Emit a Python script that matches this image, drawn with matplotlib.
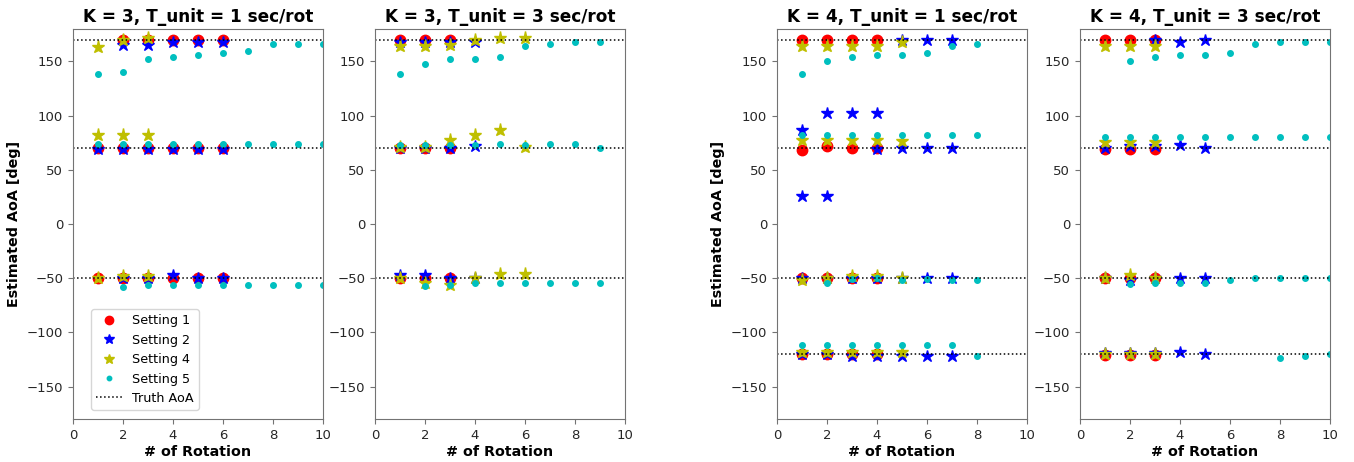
import matplotlib
matplotlib.use('Agg')
import matplotlib.pyplot as plt

# AoA estimates per panel and per setting, as (rotation, estimated AoA [deg])
# K = 3, T_unit = 1 sec/rot
k3t1_s1 = [(1, 70), (1, -50), (2, 170), (2, 70), (2, -50), (3, 170), (3, 70), (3, -50),
           (4, 170), (4, 70), (4, -50), (5, 170), (5, 70), (5, -50), (6, 170), (6, 70), (6, -50)]
k3t1_s2 = [(1, 69), (2, 165), (2, 69), (2, -50), (3, 165), (3, 69), (3, -50),
           (4, 168), (4, 69), (4, -47), (5, 168), (5, 69), (5, -50), (6, 168), (6, 69), (6, -50)]
k3t1_s4 = [(1, 163), (1, 82), (1, -50), (2, 170), (2, 82), (2, -48), (3, 172), (3, 82), (3, -48)]
k3t1_s5 = [(1, 138), (1, 74), (2, 140), (2, 74), (2, -58), (3, 152), (3, 74), (3, -56),
           (4, 154), (4, 74), (4, -56), (5, 156), (5, 74), (5, -56), (6, 158), (6, 74), (6, -56),
           (7, 160), (7, 74), (7, -56), (8, 166), (8, 74), (8, -56), (9, 166), (9, 74), (9, -56),
           (10, 166), (10, 74), (10, -56)]

# K = 3, T_unit = 3 sec/rot
k3t3_s1 = [(1, 170), (1, 70), (1, -50), (2, 170), (2, 70), (2, -50), (3, 170), (3, 70), (3, -50)]
k3t3_s2 = [(1, 168), (1, 70), (1, -47), (2, 168), (2, 70), (2, -47), (3, 168), (3, 70), (3, -50),
           (4, 168), (4, 72), (4, -50)]
k3t3_s4 = [(1, 164), (1, 71), (1, -50), (2, 164), (2, 71), (2, -54), (3, 165), (3, 78), (3, -56),
           (4, 170), (4, 82), (4, -50), (5, 172), (5, 87), (5, -46), (6, 172), (6, 71), (6, -46)]
k3t3_s5 = [(1, 138), (1, 73), (2, 148), (2, 73), (2, -57), (3, 152), (3, 73), (3, -56),
           (4, 152), (4, 73), (4, -54), (5, 154), (5, 74), (5, -54), (6, 164), (6, 73), (6, -54),
           (7, 166), (7, 74), (7, -54), (8, 168), (8, 74), (8, -54), (9, 168), (9, 70), (9, -54)]

# K = 4, T_unit = 1 sec/rot
k4t1_s1 = [(1, 170), (1, 68), (1, -50), (1, -120), (2, 170), (2, 72), (2, -50), (2, -120),
           (3, 170), (3, 70), (3, -50), (3, -120), (4, 170), (4, 70), (4, -50), (4, -120)]
k4t1_s2 = [(1, 87), (1, 26), (1, -50), (1, -120), (2, 102), (2, 26), (2, -50), (2, -120),
           (3, 102), (3, -50), (3, -122), (4, 102), (4, 69), (4, -50), (4, -122),
           (5, 170), (5, 70), (5, -50), (5, -122), (6, 170), (6, 70), (6, -50), (6, -122),
           (7, 170), (7, 70), (7, -50), (7, -122)]
k4t1_s4 = [(1, 164), (1, 78), (1, -52), (1, -118), (2, 164), (2, 78), (2, -50), (2, -118),
           (3, 164), (3, 78), (3, -48), (3, -118), (4, 164), (4, 78), (4, -48), (4, -118),
           (5, 168), (5, 77), (5, -50), (5, -118)]
k4t1_s5 = [(1, 138), (1, 82), (1, -112), (2, 150), (2, 82), (2, -54), (2, -112),
           (3, 154), (3, 82), (3, -51), (3, -112), (4, 156), (4, 82), (4, -50), (4, -112),
           (5, 156), (5, 82), (5, -52), (5, -112), (6, 158), (6, 82), (6, -51), (6, -112),
           (7, 164), (7, 82), (7, -52), (7, -112), (8, 166), (8, 82), (8, -52), (8, -122)]

# K = 4, T_unit = 3 sec/rot
k4t3_s1 = [(1, 170), (1, 69), (1, -50), (1, -121), (2, 170), (2, 69), (2, -50), (2, -121),
           (3, 170), (3, 69), (3, -50), (3, -121)]
k4t3_s2 = [(1, 70), (1, -50), (1, -119), (2, 72), (2, -52), (2, -119), (3, 170), (3, 72), (3, -50), (3, -119),
           (4, 168), (4, 73), (4, -50), (4, -118), (5, 170), (5, 70), (5, -50), (5, -120)]
k4t3_s4 = [(1, 164), (1, 76), (1, -50), (1, -120), (2, 164), (2, 76), (2, -47), (2, -120),
           (3, 164), (3, 76), (3, -50), (3, -120)]
k4t3_s5 = [(1, 80), (2, 150), (2, 80), (2, -55), (3, 154), (3, 80), (3, -54),
           (4, 156), (4, 80), (4, -54), (5, 156), (5, 80), (5, -54), (6, 158), (6, 80), (6, -52),
           (7, 166), (7, 80), (7, -50), (8, 168), (8, 80), (8, -50), (8, -124),
           (9, 168), (9, 80), (9, -50), (9, -122), (10, 168), (10, 80), (10, -50), (10, -120)]

truth_k3 = [170, 70, -50]
truth_k4 = [170, 70, -50, -120]

titles = ['K = 3, T_unit = 1 sec/rot', 'K = 3, T_unit = 3 sec/rot',
          'K = 4, T_unit = 1 sec/rot', 'K = 4, T_unit = 3 sec/rot']
setting_labels = ['Setting 1', 'Setting 2', 'Setting 4', 'Setting 5']

panels = [
    ([k3t1_s1, k3t1_s2, k3t1_s4, k3t1_s5], truth_k3),
    ([k3t3_s1, k3t3_s2, k3t3_s4, k3t3_s5], truth_k3),
    ([k4t1_s1, k4t1_s2, k4t1_s4, k4t1_s5], truth_k4),
    ([k4t3_s1, k4t3_s2, k4t3_s4, k4t3_s5], truth_k4),
]

# marker styles for settings 1, 2, 4, 5
styles = [
    dict(marker='o', color='r', markersize=7.5),
    dict(marker='*', color='b', markersize=9),
    dict(marker='*', color='y', markersize=9.5),
    dict(marker='o', color='c', markersize=4),
]

fig = plt.figure(figsize=(13.54, 4.62), dpi=100)
lefts = [73, 375, 777, 1080]
axes = []
for left in lefts:
    ax = fig.add_axes([left / 1354, 1 - 419 / 462, 250 / 1354, 390 / 462])
    axes.append(ax)

for i, (ax, (settings, truth)) in enumerate(zip(axes, panels)):
    for pts, st, lab in zip(settings, styles, setting_labels):
        xs = [p[0] for p in pts]
        ys = [p[1] for p in pts]
        ax.plot(xs, ys, linestyle='none', label=lab, **st)
    for j, t in enumerate(truth):
        ax.axhline(t, color='k', linestyle=':', linewidth=1.1,
                   label='Truth AoA' if j == 0 else None)
    ax.set_xlim(0, 10)
    ax.set_ylim(-180, 180)
    ax.set_yticks([-150, -100, -50, 0, 50, 100, 150])
    ax.set_xticks([0, 2, 4, 6, 8, 10])
    ax.tick_params(labelsize=9.5, colors='0.15', color='0.45')
    for sp in ax.spines.values():
        sp.set_color('0.45')
    ax.set_title(titles[i], fontsize=12.2, fontweight='bold', pad=5)
    ax.set_xlabel('# of Rotation', fontsize=10.3, fontweight='bold', labelpad=2)
    if i in (0, 2):
        ax.set_ylabel('Estimated AoA [deg]', fontsize=10.3, fontweight='bold', labelpad=4)

axes[0].legend(loc='lower left', bbox_to_anchor=(0.072, 0.023), borderaxespad=0,
               fontsize=9.2, markerscale=0.8)

plt.savefig('out.png', dpi=100)
